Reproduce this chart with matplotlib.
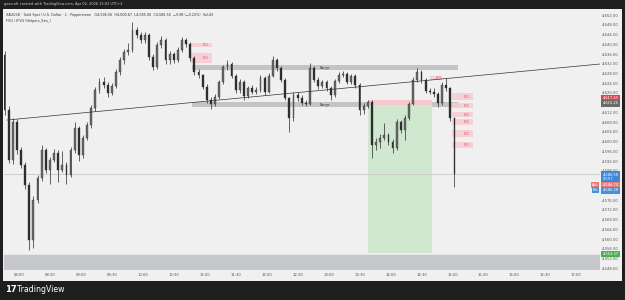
import numpy as np
import matplotlib.pyplot as plt
import matplotlib.transforms as mtransforms

# XAUUSD, candles (minutes counted from 08:00)
start_minute = -14
step = 4
first_open = 4635.5
closes = [4613.0, 4592.5, 4608.1, 4596.6, 4590.4, 4582.2, 4559.6, 4576.1, 4585.1, 4596.6,
          4588.4, 4592.5, 4595.4, 4588.4, 4590.4, 4586.3, 4596.6, 4605.6, 4594.5, 4601.5,
          4606.8, 4613.8, 4621.2, 4624.5, 4623.3, 4620.0, 4622.9, 4628.6, 4633.5, 4636.8,
          4637.6, 4645.8, 4643.8, 4641.7, 4643.8, 4634.8, 4630.7, 4639.7, 4641.7, 4633.5,
          4636.0, 4633.5, 4637.6, 4641.7, 4640.1, 4634.3, 4628.6, 4627.4, 4622.4, 4617.1,
          4615.5, 4618.3, 4624.5, 4630.7, 4631.9, 4627.0, 4621.2, 4624.5, 4618.7, 4622.0,
          4620.4, 4621.2, 4626.1, 4620.4, 4627.0, 4633.5, 4630.2, 4625.3, 4617.9, 4609.7,
          4619.2, 4617.9, 4615.9, 4615.5, 4630.2, 4625.3, 4622.9, 4624.5, 4622.0, 4619.2,
          4624.9, 4627.4, 4627.8, 4624.5, 4627.0, 4623.3, 4613.0, 4614.6, 4616.3, 4598.6,
          4599.9, 4601.5, 4602.7, 4599.9, 4597.4, 4608.1, 4604.8, 4609.7, 4615.5, 4625.3,
          4628.6, 4625.3, 4620.8, 4620.4, 4619.6, 4615.9, 4623.3, 4622.0, 4609.7, 4586.56]
highs = [4637.2, 4614.5, 4609.7, 4609.5, 4598.0, 4591.5, 4583.5, 4577.5, 4586.5, 4598.6,
         4597.5, 4593.8, 4597.0, 4596.6, 4596.0, 4591.5, 4598.0, 4608.0, 4606.5, 4602.8,
         4608.0, 4615.0, 4622.5, 4626.0, 4626.5, 4624.5, 4624.0, 4629.8, 4634.8, 4638.0,
         4640.5, 4649.0, 4647.0, 4645.0, 4645.2, 4644.5, 4636.0, 4641.0, 4643.4, 4642.5,
         4637.2, 4637.0, 4638.8, 4643.0, 4642.5, 4641.0, 4635.0, 4629.8, 4628.0, 4623.5,
         4618.5, 4619.5, 4625.5, 4631.5, 4633.5, 4632.8, 4628.0, 4625.8, 4625.5, 4623.0,
         4623.2, 4622.5, 4627.5, 4627.0, 4628.2, 4635.2, 4634.5, 4631.0, 4626.0, 4618.5,
         4620.5, 4620.5, 4619.0, 4617.0, 4632.5, 4631.0, 4626.5, 4625.5, 4625.2, 4623.0,
         4625.8, 4628.5, 4629.0, 4628.5, 4628.0, 4628.0, 4624.0, 4616.0, 4617.0, 4617.0,
         4601.5, 4603.0, 4607.7, 4603.5, 4601.0, 4609.2, 4609.0, 4611.0, 4616.5, 4626.5,
         4630.2, 4629.5, 4626.0, 4622.0, 4622.0, 4620.5, 4624.5, 4626.0, 4622.5, 4610.0]
lows = [4611.0, 4591.2, 4591.0, 4595.0, 4589.0, 4580.5, 4555.5, 4556.5, 4575.0, 4584.0,
        4587.0, 4582.5, 4591.5, 4583.5, 4587.5, 4582.5, 4585.5, 4595.5, 4592.0, 4593.5,
        4600.5, 4605.5, 4612.5, 4620.0, 4622.0, 4618.5, 4619.0, 4622.0, 4627.5, 4632.0,
        4635.5, 4637.0, 4642.5, 4640.5, 4640.5, 4633.5, 4629.4, 4630.0, 4638.5, 4632.0,
        4632.0, 4632.5, 4632.8, 4636.8, 4639.0, 4633.0, 4627.5, 4626.0, 4621.5, 4616.0,
        4613.5, 4614.5, 4617.5, 4623.5, 4629.5, 4626.0, 4619.8, 4620.0, 4617.0, 4617.8,
        4619.5, 4619.5, 4620.5, 4619.0, 4619.8, 4626.5, 4629.0, 4624.5, 4617.0, 4604.0,
        4608.5, 4616.8, 4615.0, 4614.5, 4615.0, 4624.5, 4621.8, 4622.0, 4620.8, 4617.1,
        4618.5, 4624.0, 4626.5, 4623.5, 4623.8, 4622.0, 4611.0, 4611.5, 4613.8, 4593.3,
        4596.5, 4597.4, 4600.5, 4598.5, 4595.3, 4596.5, 4603.5, 4600.7, 4609.0, 4615.0,
        4624.5, 4624.0, 4619.8, 4619.5, 4618.5, 4614.2, 4615.0, 4621.0, 4608.5, 4581.5]

# drawings on the chart
trend_t = [-11.6, 563.0]
trend_p = [4608.9, 4631.9]
range_t = [167.6, 425.4]
range_boxes = [[4629.4, 4631.5], [4614.1, 4616.4]]
fvg_boxes = [  # t0, t1, low, high
    [165.7, 187.0, 4638.9, 4640.5],
    [165.7, 187.0, 4632.3, 4636.4],
    [398.0, 410.0, 4625.3, 4627.0],
    [419.6, 440.0, 4617.1, 4620.0],
    [419.6, 440.0, 4613.8, 4615.9],
    [419.6, 440.0, 4610.1, 4612.2],
    [419.6, 440.0, 4606.8, 4609.3],
    [419.6, 440.0, 4601.9, 4604.8],
    [419.6, 440.0, 4597.4, 4599.9],
]
pos_t = [338.2, 400.2]
entry_price = 4615.25
stop_price = 4617.30
target_price = 4554.37
last_price = 4586.56
low_zone_top = 4553.5

price_ticks = [4652, 4648, 4644, 4640, 4636, 4632, 4628, 4624, 4620, 4612, 4608, 4604,
               4600, 4596, 4592, 4588, 4576, 4572, 4568, 4564, 4560, 4556, 4552, 4548]
time_ticks = [0, 30, 60, 90, 120, 150, 180, 210, 240, 270, 300, 330, 360, 390, 420, 450, 480, 510, 540]
time_labels = ['08:00', '08:30', '09:00', '09:30', '10:00', '10:30', '11:00', '11:30', '12:00',
               '12:30', '13:00', '13:30', '14:00', '14:30', '15:00', '15:30', '16:00', '16:30', '17:00']

W, H = 625, 300
fig = plt.figure(figsize=(6.25, 3), dpi=100, facecolor='#1e1e1e')
# light chart panel behind everything
panel = fig.add_axes([3 / W, 1 - 281 / H, 619 / W, 272 / H], zorder=-5)
panel.set_facecolor('#f0f0f0')
panel.set_xticks([])
panel.set_yticks([])
for s in panel.spines.values():
    s.set_visible(False)

ax = fig.add_axes([4 / W, 1 - 270 / H, 596 / W, 261 / H])
ax.set_facecolor('#f0f0f0')
for s in ax.spines.values():
    s.set_visible(False)
ax.set_xlim(-14.5, 563.0)
ax.set_ylim(4547.3, 4654.5)

# zones first, candles on top
ax.axhspan(4540, low_zone_top, color='#c5c7ca', zorder=1)
for lo, hi in range_boxes:
    ax.fill_between(range_t, lo, hi, color='#bdbdbd', alpha=0.85, lw=0, zorder=1)
    ax.text(np.mean(range_t), (lo + hi) / 2, 'Range', fontsize=2.4, color='#333333',
            ha='center', va='center', zorder=5)
for t0, t1, lo, hi in fvg_boxes:
    ax.fill_between([t0, t1], lo, hi, color='#f6cdd3', alpha=0.9, lw=0, zorder=1)
    ax.text(t0 + (t1 - t0) * 0.7, (lo + hi) / 2, 'FVG', fontsize=2.2, color='#e0506a',
            ha='center', va='center', zorder=5)
ax.fill_between(pos_t, target_price, entry_price, color='#cfe8cf', lw=0, zorder=1)
ax.fill_between(pos_t, entry_price, stop_price, color='#f5c9cc', lw=0, zorder=1)
ax.axhline(last_price, color='#c8c8c8', lw=0.6, zorder=2)
ax.plot(trend_t, trend_p, color='#333333', lw=0.5, zorder=4)

# thin dark candles
opens = [first_open] + closes[:-1]
times = start_minute + step * np.arange(len(closes))
colors = ['#6a6a6a' if c >= o else '#2e2e2e' for o, c in zip(opens, closes)]
ax.vlines(times, lows, highs, color='#3a3a3a', lw=0.55, zorder=3)
ax.bar(times, np.abs(np.array(closes) - np.array(opens)) + 0.15,
       bottom=np.minimum(opens, closes), width=step * 0.45, color=colors,
       edgecolor='#2e2e2e', linewidth=0.25, zorder=3)

# axes labels
ax.yaxis.tick_right()
ax.set_yticks(price_ticks)
ax.set_yticklabels([f'{p:,.2f}' for p in price_ticks])
ax.tick_params(axis='y', length=0, pad=1.6, labelsize=2.7, labelcolor='#555555')
ax.set_xticks(time_ticks)
ax.set_xticklabels(time_labels)
ax.tick_params(axis='x', length=0, pad=1.8, labelsize=2.7, labelcolor='#555555')

# coloured price labels on the scale
tr = mtransforms.blended_transform_factory(ax.transAxes, ax.transData)
tags = [
    [4618.0, '4,617.30', '#e5404f'],
    [4615.75, '4,615.25', '#6b6b6b'],
    [4585.6, '4,586.58\n00:57', '#3f88d6'],
    [4582.3, '4,586.74', '#e57b7b'],
    [4580.0, '4,586.38', '#4a90d9'],
    [4553.8, '4,554.37', '#4caf50'],
]
for p, txt, col in tags:
    ax.text(1.004, p, txt, transform=tr, fontsize=2.6, color='white', ha='left', va='center',
            linespacing=1.1, clip_on=False,
            bbox=dict(boxstyle='square,pad=0.35', fc=col, ec='none'))
ax.text(0.997, 4582.3, 'Ask', transform=tr, fontsize=2.4, color='white', ha='right', va='center',
        bbox=dict(boxstyle='square,pad=0.3', fc='#e57b7b', ec='none'))
ax.text(0.997, 4580.0, 'Bid', transform=tr, fontsize=2.4, color='white', ha='right', va='center',
        bbox=dict(boxstyle='square,pad=0.3', fc='#4a90d9', ec='none'))

# legend lines and header
ax.text(0.003, 0.985, 'XAUUSD · Gold Spot / U.S. Dollar · 1 · Pepperstone   O4,596.56  H4,600.67  '
        'L4,585.90  C4,586.56  −9.98 (−0.22%)  Vol:43', transform=ax.transAxes,
        fontsize=2.4, color='#333333', ha='left', va='top')
ax.text(0.003, 0.96, 'FVG / IFVG (Helpers_Sim_)', transform=ax.transAxes,
        fontsize=2.4, color='#333333', ha='left', va='top')
fig.text(4 / W, 1 - 4.5 / H, 'gezcraft created with TradingView.com, Apr 02, 2026 15:02 UTC+2',
         fontsize=2.5, color='#cfcfcf', ha='left', va='center')
fig.text(5 / W, 1 - 290 / H, '17', fontsize=6, fontweight='bold', color='white',
         ha='left', va='center')
fig.text(17 / W, 1 - 290 / H, 'TradingView', fontsize=5.6, color='white',
         ha='left', va='center')

fig.savefig('out.png', dpi=100, facecolor=fig.get_facecolor())
